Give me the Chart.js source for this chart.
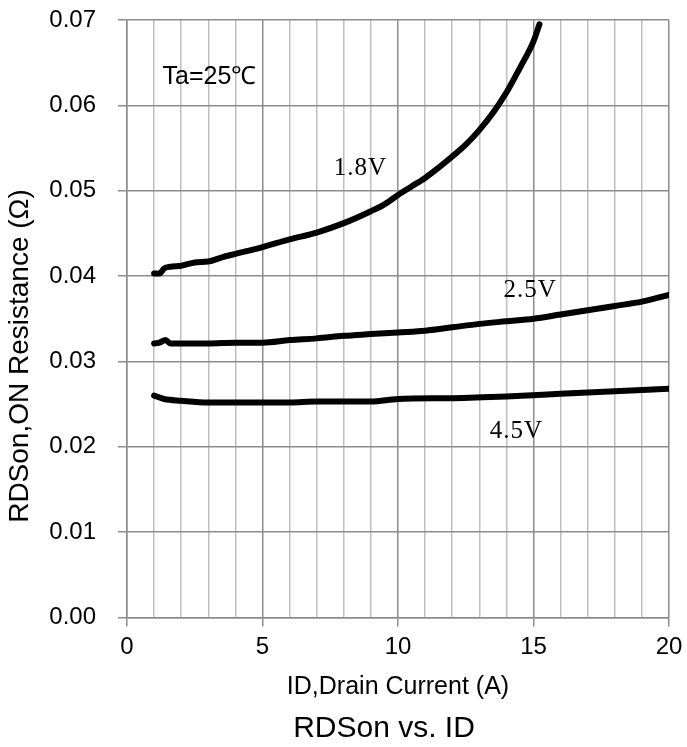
<!DOCTYPE html>
<html>
<head>
<meta charset="utf-8">
<script src="https://cdn.jsdelivr.net/npm/chart.js@4/dist/chart.umd.min.js"></script>
<style>
html,body{margin:0;padding:0;background:#fff;}
#wrap{width:687px;height:747px;position:relative;}
</style>
</head>
<body>
<div id="wrap"><canvas id="c" width="687" height="747"></canvas></div>
<script>
// ---- data ----
const id18 = [1, 1.2, 1.37, 1.6, 2, 2.5, 3, 3.5, 4, 5, 6, 7, 8, 9, 9.5, 10, 10.5, 11, 11.5, 12, 12.5, 13, 13.5, 14, 14.5, 15, 15.22];
const r18  = [0.0403, 0.0403, 0.0409, 0.0411, 0.0412, 0.0416, 0.0417, 0.0422, 0.0426, 0.0434, 0.0443, 0.0451, 0.0462, 0.0476, 0.0484, 0.0495, 0.0505, 0.0515, 0.0527, 0.0540, 0.0554, 0.0571, 0.0591, 0.0615, 0.0644, 0.0675, 0.0695];

const id25 = [1, 1.2, 1.42, 1.6, 2, 3, 4, 5, 6, 7, 8, 9, 10, 11, 12, 13, 14, 15, 16, 17, 18, 19, 20];
const r25  = [0.0321, 0.0322, 0.0325, 0.0321, 0.0321, 0.0321, 0.0322, 0.0322, 0.0325, 0.0327, 0.0330, 0.0332, 0.0334, 0.0336, 0.0340, 0.0344, 0.0347, 0.0350, 0.0355, 0.0360, 0.0365, 0.0370, 0.0378];

const id45 = [1, 1.37, 2, 3, 4, 5, 6, 7, 8, 9, 10, 12, 14, 16, 18, 20];
const r45  = [0.0260, 0.0256, 0.0254, 0.0252, 0.0252, 0.0252, 0.0252, 0.0253, 0.0253, 0.0253, 0.0256, 0.0257, 0.0259, 0.0262, 0.0265, 0.0268];

const seriesNames = ["1.8V", "2.5V", "4.5V"];
const xTitle = "ID,Drain Current (A)";
const yTitle = "RDSon,ON Resistance (Ω)";
const chartTitle = "RDSon vs. ID";
const noteText = "Ta=25℃";
// label anchor positions in data units
const labelX = [8.61, 14.88, 14.37];
const labelY = [0.0526, 0.0383, 0.02175];
const noteX = 3.04, noteY = 0.0633;

const MAJOR = '#8c8c8c', MINOR = '#bfbfbf';
const toPts = (xs, ys) => xs.map((x, i) => ({x: x, y: ys[i]}));

const textPlugin = {
  id: 'texts',
  afterDraw(chart) {
    const ctx = chart.ctx, xs = chart.scales.x, ys = chart.scales.y, ca = chart.chartArea;
    ctx.save();
    ctx.fillStyle = '#000';
    ctx.textAlign = 'center';
    ctx.textBaseline = 'middle';
    // series labels (serif)
    ctx.font = '25px "Liberation Serif", "DejaVu Serif", serif';
    try { ctx.letterSpacing = '1px'; } catch (e) {}
    seriesNames.forEach((n, i) => {
      ctx.fillText(n, xs.getPixelForValue(labelX[i]), ys.getPixelForValue(labelY[i]));
    });
    try { ctx.letterSpacing = '0px'; } catch (e) {}
    ctx.font = '25px "Liberation Sans", Arial, sans-serif';
    ctx.fillText(noteText, xs.getPixelForValue(noteX), ys.getPixelForValue(noteY));
    // x axis title
    ctx.font = '25px "Liberation Sans", Arial, sans-serif';
    ctx.fillText(xTitle, (ca.left + ca.right) / 2, ca.bottom + 70);
    // chart title
    ctx.font = '30px "Liberation Sans", Arial, sans-serif';
    ctx.fillText(chartTitle, (ca.left + ca.right) / 2 - 14, ca.bottom + 111);
    // y axis title
    ctx.translate(20, 356);
    ctx.rotate(-Math.PI / 2);
    ctx.font = '28px "Liberation Sans", Arial, sans-serif';
    ctx.fillText(yTitle, 0, 0);
    ctx.restore();
  }
};

const ds = (data) => ({
  data: data,
  borderColor: '#000',
  backgroundColor: '#000',
  borderWidth: 6,
  pointRadius: 0,
  cubicInterpolationMode: 'monotone',
  borderCapStyle: 'round',
  borderJoinStyle: 'round',
  fill: false
});

new Chart(document.getElementById('c'), {
  type: 'line',
  data: {
    datasets: [ds(toPts(id18, r18)), ds(toPts(id25, r25)), ds(toPts(id45, r45))]
  },
  options: {
    responsive: false,
    animation: false,
    layout: { padding: { top: 20, right: 18, bottom: 0, left: 0 } },
    plugins: { legend: { display: false }, tooltip: { enabled: false }, title: { display: false } },
    scales: {
      x: {
        type: 'linear',
        min: 0, max: 20,
        afterFit(s) { s.height = 129.5; s.paddingLeft = 0; s.paddingRight = 0; },
        border: { color: MAJOR, width: 1.5 },
        grid: {
          lineWidth: 1.5,
          color: c => (c.tick && c.tick.value % 5 === 0) ? MAJOR : MINOR,
          tickColor: c => (c.tick && c.tick.value % 5 === 0) ? MAJOR : 'rgba(0,0,0,0)',
          tickLength: 9
        },
        ticks: {
          stepSize: 1,
          autoSkip: false,
          maxRotation: 0,
          padding: 6,
          color: '#000',
          font: { family: '"Liberation Sans", Arial, sans-serif', size: 24 },
          callback: v => (v % 5 === 0 ? String(v) : '')
        }
      },
      y: {
        min: 0, max: 0.07,
        afterFit(s) { s.width = 127; s.paddingTop = 0; s.paddingBottom = 0; },
        border: { color: MAJOR, width: 1.5 },
        grid: { lineWidth: 1.5, color: MAJOR, tickColor: MAJOR, tickLength: 9 },
        ticks: {
          stepSize: 0.01,
          padding: 22,
          color: '#000',
          font: { family: '"Liberation Sans", Arial, sans-serif', size: 24 },
          callback: v => Number(v).toFixed(2)
        }
      }
    }
  },
  plugins: [textPlugin]
});
</script>
</body>
</html>
